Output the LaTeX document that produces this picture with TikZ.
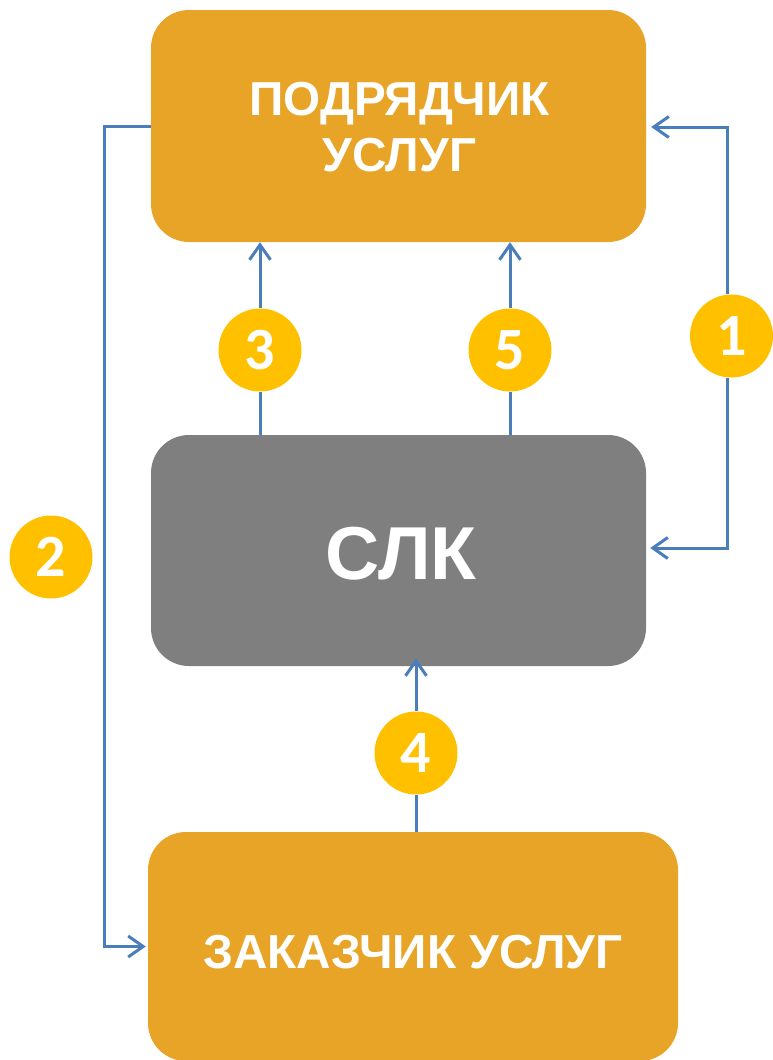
\documentclass[tikz,border=0pt]{standalone}
\usepackage{fontspec}
\usepackage[dvipsnames]{xcolor}
\usepackage{tikz}
\usetikzlibrary{arrows.meta}
\setmainfont{Liberation Sans}
\newfontfamily\digitfont{Carlito}

\definecolor{boxorange}{HTML}{E8A427}
\definecolor{boxgray}{HTML}{7F7F7F}
\definecolor{badgeyellow}{HTML}{FFC000}
\definecolor{linkblue}{HTML}{4A7EBB}

\tikzset{
  box/.style={rectangle, rounded corners=38pt, inner sep=0pt, fill=boxorange},
  boxtext/.style={text=white, inner sep=0pt, align=center,
    font=\bfseries\fontsize{47.7}{56}\selectfont},
  badge/.style={circle, fill=badgeyellow, minimum size=83pt, inner sep=0pt,
    text=white, font=\digitfont\bfseries\fontsize{60}{60}\selectfont},
  link/.style={color=linkblue, line width=3pt}
}

\begin{document}
\begin{tikzpicture}[x=1pt, y=-1pt, >={Straight Barb[length=15pt, width=21pt]}]
    \useasboundingbox (0, 0) rectangle (773, 1060);

    % draw boxes
    \node[box, minimum width=495pt, minimum height=232pt] (contractor) at (398.5, 126) {};
    \node[box, fill=boxgray, minimum width=495pt, minimum height=231pt] (slk) at (398.5, 550.5) {};
    \node[box, minimum width=530pt, minimum height=229pt] (customer) at (413, 946.5) {};

    \node[boxtext] (contractortext) at (399.5, 127) {ПОДРЯДЧИК\\УСЛУГ};
    \node[boxtext, font=\bfseries\fontsize{75}{75}\selectfont] (slktext) at (401, 554) {СЛК};
    \node[boxtext] (customertext) at (413, 952) {ЗАКАЗЧИК УСЛУГ};

    % draw numbered badges
    \node[badge] (n1) at (731.5, 336) {1};
    \node[badge] (n2) at (51, 557) {2};
    \node[badge] (n3) at (260, 350) {3};
    \node[badge] (n4) at (416, 753) {4};
    \node[badge] (n5) at (510, 350) {5};

    % draw links
    \coordinate (c1top) at (727, 127);
    \coordinate (c1bot) at (727, 548);
    \coordinate (c2) at (104, 540);

    \draw[link, ->] (n1.north -| c1top) -- (c1top) -- ([xshift=5pt]contractor.east |- c1top);
    \draw[link, ->] (n1.south -| c1bot) -- (c1bot) -- ([xshift=4pt]slk.east |- c1bot);

    \draw[link, ->] (contractor.west) -| (c2) |- ([xshift=-2pt]customer.west);

    \draw[link] (slk.north -| n3) -- (n3.south);
    \draw[link, ->] (n3.north) -- (contractor.south -| n3);
    \draw[link] (slk.north -| n5) -- (n5.south);
    \draw[link, ->] (n5.north) -- (contractor.south -| n5);

    \draw[link] (customer.north -| n4) -- (n4.south);
    \draw[link, ->] (n4.north) -- ([yshift=8pt]slk.south -| n4);
\end{tikzpicture}
\end{document}
